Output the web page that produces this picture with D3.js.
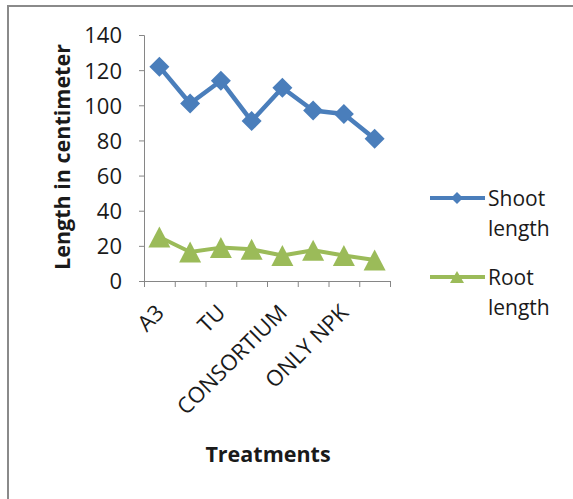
<!DOCTYPE html>
<html><head><meta charset="utf-8">
<script src="https://cdn.jsdelivr.net/npm/d3@7"></script>
<style>body{margin:0;background:#fff;} svg{display:block;}</style>
</head><body>
<script>
const categories = ["A3","","TU","","CONSORTIUM","","ONLY NPK",""];
const shootLength = [122, 101, 114, 91, 110, 97, 95, 81];
const rootLength = [25, 16.5, 19, 18, 14.5, 17.5, 14.5, 12];
const yTicks = [0, 20, 40, 60, 80, 100, 120, 140];
const seriesNames = ["Shoot length", "Root length"];

const W = 573, H = 499;
const svg = d3.select("body").append("svg").attr("width", W).attr("height", H);
const FONT = "'Open Sans', 'Noto Sans', sans-serif";

// frame
svg.append("rect").attr("x", 8).attr("y", 6).attr("width", 700).attr("height", 700)
  .attr("fill", "none").attr("stroke", "#8a8a8a").attr("stroke-width", 2);

const x = d3.scaleLinear().domain([0, categories.length]).range([144, 390]);
const y = d3.scaleLinear().domain([0, 140]).range([281, 35]);
const cx = i => x(i + 0.5);

// y axis
const yAxis = svg.append("g").attr("transform", "translate(144,0)")
  .call(d3.axisLeft(y).tickValues(yTicks).tickSize(5).tickPadding(17));
yAxis.select(".domain").attr("stroke", "#868686");
yAxis.selectAll(".tick line").attr("stroke", "#868686");
yAxis.selectAll(".tick text").attr("font-family", FONT).attr("font-size", 22)
  .attr("fill", "#1a1a1a").attr("dy", "0.36em");

// x axis
const xAxis = svg.append("g").attr("transform", "translate(0,281)")
  .call(d3.axisBottom(x).tickValues(d3.range(categories.length + 1)).tickSize(6).tickFormat(""));
xAxis.select(".domain").attr("stroke", "#868686");
xAxis.selectAll(".tick line").attr("stroke", "#868686");

// x labels
svg.append("g").selectAll("text").data(categories).join("text")
  .attr("transform", (d, i) => `translate(${cx(i) + 6},314) rotate(-45)`)
  .attr("text-anchor", "end")
  .attr("font-family", FONT).attr("font-size", 22).attr("fill", "#1a1a1a")
  .text(d => d);

// axis titles
svg.append("text").attr("transform", "translate(70,157) rotate(-90)")
  .attr("text-anchor", "middle").attr("font-family", FONT).attr("font-weight", "bold")
  .attr("font-size", 21.5).attr("fill", "#1a1a1a").text("Length in centimeter");
svg.append("text").attr("x", 268).attr("y", 462)
  .attr("text-anchor", "middle").attr("font-family", FONT).attr("font-weight", "bold")
  .attr("font-size", 21.5).attr("fill", "#1a1a1a").text("Treatments");

const blue = "#4a7ebb", green = "#9bbb59";
const line = d3.line().x((d, i) => cx(i)).y(d => y(d));

svg.append("path").datum(shootLength).attr("d", line).attr("fill", "none")
  .attr("stroke", blue).attr("stroke-width", 4.5).attr("stroke-linejoin", "round");
svg.append("path").datum(rootLength).attr("d", line).attr("fill", "none")
  .attr("stroke", green).attr("stroke-width", 4).attr("stroke-linejoin", "round");

const diamond = (s) => `M0,${-s}L${s},0L0,${s}L${-s},0Z`;
const triangle = (w, h) => `M0,${-h/2}L${w/2},${h/2}L${-w/2},${h/2}Z`;

svg.append("g").selectAll("path").data(shootLength).join("path")
  .attr("transform", (d, i) => `translate(${cx(i)},${y(d)})`)
  .attr("d", diamond(10)).attr("fill", blue);
svg.append("g").selectAll("path").data(rootLength).join("path")
  .attr("transform", (d, i) => `translate(${cx(i)},${y(d)})`)
  .attr("d", triangle(22, 21)).attr("fill", green);

// legend
const leg = svg.append("g");
const legY = [198, 277];
const legColors = [blue, green];
seriesNames.forEach((name, k) => {
  leg.append("line").attr("x1", 430).attr("x2", 485).attr("y1", legY[k]).attr("y2", legY[k])
    .attr("stroke", legColors[k]).attr("stroke-width", 4);
  leg.append("path").attr("transform", `translate(457,${legY[k]})`)
    .attr("d", k === 0 ? diamond(6) : triangle(14, 12)).attr("fill", legColors[k]);
  const words = name.split(" ");
  const t = leg.append("text").attr("font-family", FONT).attr("font-size", 21).attr("fill", "#1a1a1a");
  words.forEach((w, j) => {
    t.append("tspan").attr("x", 488).attr("y", legY[k] + 8 + j * 30).text(w);
  });
});
</script>
</body></html>
